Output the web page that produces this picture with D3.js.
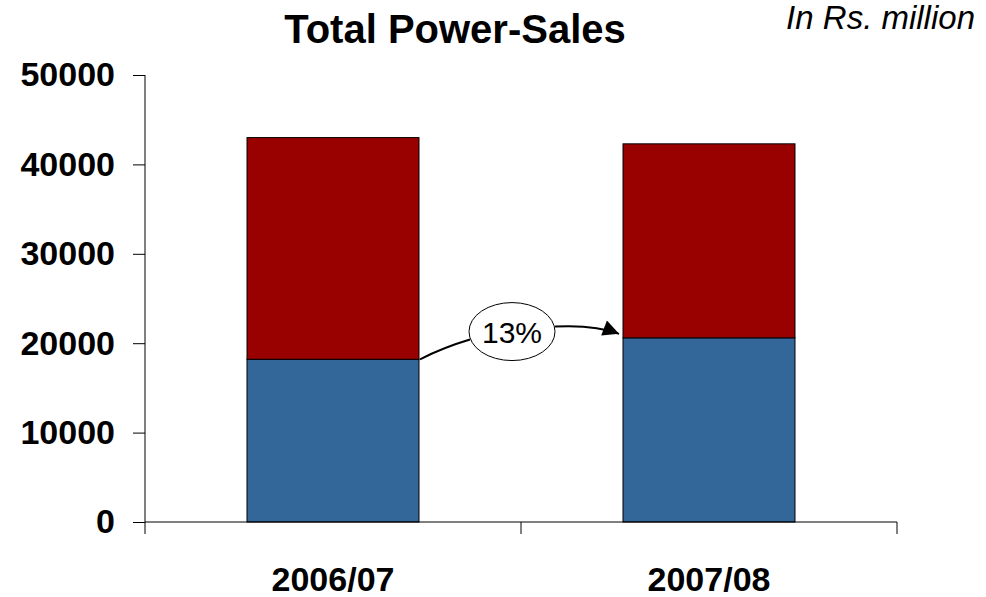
<!DOCTYPE html>
<html>
<head>
<meta charset="utf-8">
<script src="https://cdn.jsdelivr.net/npm/d3@7"></script>
<style>
  html, body { margin: 0; padding: 0; background: #fff; }
  svg { display: block; font-family: "Liberation Sans", Arial, Helvetica, sans-serif; }
</style>
</head>
<body>
<svg id="chart" width="986" height="597"></svg>
<script>
// ---- data ----
const categories = ["2006/07", "2007/08"];
const seriesNames = ["Domestic", "Other"];
const bottomValues = [18200, 20600];   // blue segment
const topValues = [24800, 21700];      // red segment (stacked on top)
const yTicks = [0, 10000, 20000, 30000, 40000, 50000];
const growthLabel = "13%";
const titleText = "Total Power-Sales";
const unitText = "In Rs. million";
const colors = ["#336699", "#990000"];

// ---- layout ----
const svg = d3.select("#chart");
const margin = { left: 145, right: 89, top: 75, bottom: 75 };
const W = 986, H = 597;

const x = d3.scaleBand()
  .domain(categories)
  .range([margin.left, W - margin.right])
  .paddingInner(0.5426)
  .paddingOuter(0.2713);

const y = d3.scaleLinear()
  .domain([0, 50000])
  .range([H - margin.bottom, margin.top]);

const rows = categories.map((c, i) => ({ cat: c, a: bottomValues[i], b: topValues[i] }));
const stack = d3.stack().keys(["a", "b"])(rows);

// bars
svg.append("g").selectAll("g")
  .data(stack)
  .join("g")
  .attr("fill", (d, i) => colors[i])
  .selectAll("rect")
  .data(d => d)
  .join("rect")
  .attr("x", d => x(d.data.cat))
  .attr("y", d => y(d[1]))
  .attr("width", x.bandwidth())
  .attr("height", d => y(d[0]) - y(d[1]))
  .attr("stroke", "#000")
  .attr("stroke-width", 1);

// y axis
const yAxis = svg.append("g")
  .attr("transform", `translate(${margin.left},0)`)
  .call(d3.axisLeft(y).tickValues(yTicks).tickFormat(d3.format("d")).tickSize(12).tickPadding(18));
yAxis.select(".domain").attr("stroke", "#000").attr("d", `M0,${y(50000)}V${y(0)}`);
yAxis.selectAll(".tick line").attr("stroke", "#000");
yAxis.selectAll(".tick text")
  .attr("font-size", 34).attr("font-weight", "bold").attr("fill", "#000")
  .attr("font-family", "'Liberation Sans', Arial, sans-serif");

// x axis
const xAxis = svg.append("g")
  .attr("transform", `translate(0,${y(0)})`);
xAxis.append("line")
  .attr("x1", margin.left).attr("x2", W - margin.right)
  .attr("y1", 0).attr("y2", 0).attr("stroke", "#000");
const step = x.step();
const gap = (step - x.bandwidth()) / 2;
const boundaries = [x(categories[0]) - gap]
  .concat(categories.map(c => x(c) + x.bandwidth() + gap));
xAxis.selectAll("line.tk")
  .data(boundaries)
  .join("line")
  .attr("class", "tk")
  .attr("x1", d => d).attr("x2", d => d)
  .attr("y1", 0).attr("y2", 12)
  .attr("stroke", "#000");
xAxis.selectAll("text")
  .data(categories)
  .join("text")
  .attr("x", d => x(d) + x.bandwidth() / 2)
  .attr("y", 69)
  .attr("text-anchor", "middle")
  .attr("font-size", 34)
  .attr("font-weight", "bold")
  .attr("fill", "#000")
  .text(d => d);

// title & unit
svg.append("text")
  .attr("x", 455).attr("y", 43)
  .attr("text-anchor", "middle")
  .attr("font-size", 40).attr("font-weight", "bold")
  .text(titleText);
svg.append("text")
  .attr("x", 975).attr("y", 29)
  .attr("text-anchor", "end")
  .attr("font-size", 33).attr("font-style", "italic")
  .text(unitText);

// growth annotation
const defs = svg.append("defs");
defs.append("marker")
  .attr("id", "arrow")
  .attr("viewBox", "0 0 10 10")
  .attr("refX", 10).attr("refY", 5)
  .attr("markerWidth", 21).attr("markerHeight", 16)
  .attr("markerUnits", "userSpaceOnUse")
  .attr("orient", "auto")
  .append("path").attr("d", "M0,0L10,5L0,10Z").attr("fill", "#000");

const x1r = x(categories[0]) + x.bandwidth();
const x2l = x(categories[1]);
const cx = (x1r + x2l) / 2 - 9;
const cy = y((bottomValues[0] + bottomValues[1]) / 2 + 1900);
const rx = 43, ry = 29;

const startY = y(bottomValues[0]);
const leftEndX = cx - rx + 1, leftEndY = cy + 8;
svg.append("path")
  .attr("d", `M${x1r + 1},${startY} Q${x1r + 25},${startY - 12} ${leftEndX},${leftEndY}`)
  .attr("fill", "none").attr("stroke", "#000").attr("stroke-width", 2);

const rStartX = cx + rx, rStartY = cy - 5;
const endX = x2l - 4, endY = y(bottomValues[1]) - 4;
svg.append("path")
  .attr("d", `M${rStartX},${rStartY} Q${rStartX + 40},${rStartY - 2} ${endX},${endY}`)
  .attr("fill", "none").attr("stroke", "#000").attr("stroke-width", 2)
  .attr("marker-end", "url(#arrow)");

svg.append("ellipse")
  .attr("cx", cx).attr("cy", cy).attr("rx", rx).attr("ry", ry)
  .attr("fill", "#fff").attr("stroke", "#000").attr("stroke-width", 1);
svg.append("text")
  .attr("x", cx).attr("y", cy + 11)
  .attr("text-anchor", "middle")
  .attr("font-size", 30)
  .text(growthLabel);
</script>
</body>
</html>
